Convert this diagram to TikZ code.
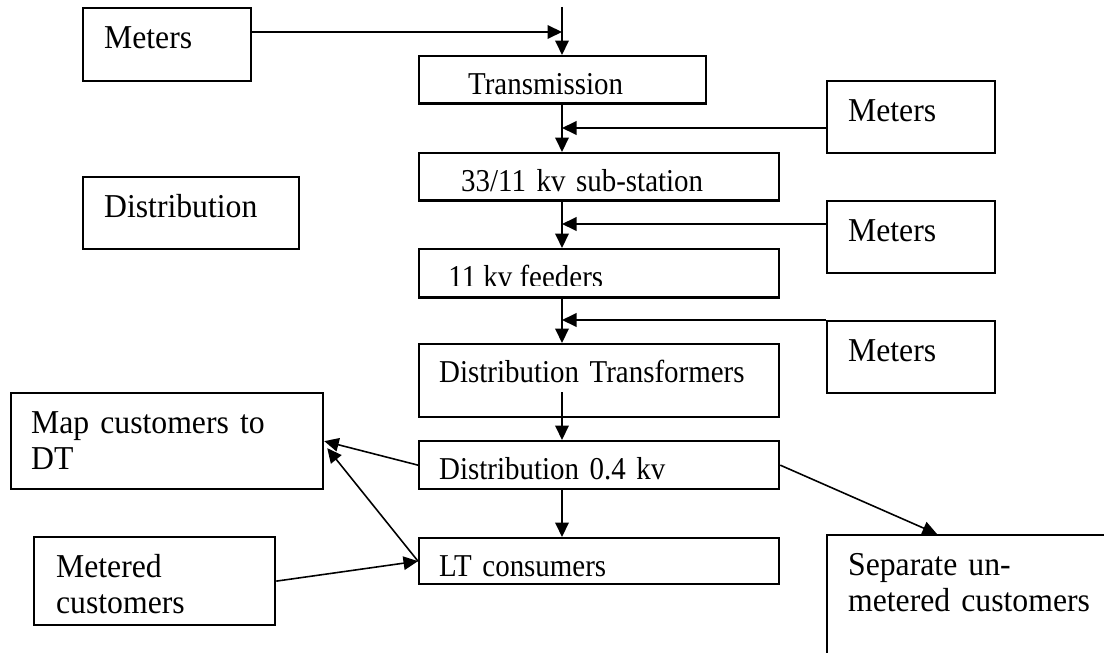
\documentclass[tikz,border=0pt]{standalone}
\usepackage{fontspec}
\setmainfont{Liberation Serif}
\newfontfamily\sidefont[FakeStretch=0.95]{Liberation Serif}
\newfontfamily\centerfont[FakeStretch=0.91]{Liberation Serif}
\usetikzlibrary{arrows.meta,calc}

\begin{document}
\begin{tikzpicture}[
    x=0.02cm, y=-0.02cm,
    boxstyle/.style={rectangle, draw, line width=1.3pt, anchor=north west, inner ysep=0pt, align=left},
    sidebox/.style={boxstyle, inner xsep=0.42cm, text height=0.8cm, font=\sidefont\fontsize{19pt}{20.8pt}\selectfont},
    centerbox/.style={boxstyle, inner xsep=0.4cm, text width=6.4cm, text height=0.77cm, text depth=0.2cm, font=\centerfont\fontsize{18.1pt}{20pt}\selectfont},
    arrow/.style={-{Triangle[length=0.29cm, width=0.27cm]}, line width=1.1pt},
    slantarrow/.style={arrow, line width=0.9pt}
]
\clip (0,0) rectangle (1104,652);

% Left column
\node[sidebox, text width=2.52cm, text depth=0.66cm] (meterA) at (82,7) {Meters};
\node[sidebox, text width=3.48cm, text depth=0.64cm] (distL) at (82,176) {Distribution};
\node[sidebox, inner xsep=0.4cm, text width=5.44cm, text depth=1.12cm] (mapc) at (10,392) {Map customers to\\DT};
\node[sidebox, inner xsep=0.44cm, text width=3.94cm, text depth=0.96cm] (metered) at (33,536) {Metered\\customers};

% Centre chain
\node[centerbox, inner xsep=0.98cm, text width=3.78cm, text depth=0.18cm] (trans) at (418,55) {Transmission};
\node[centerbox, inner xsep=0.84cm, text width=5.52cm, text depth=0.18cm] (sub) at (418,152) {33/11 kv sub-station};
\node[centerbox, inner xsep=0.6cm, text width=6cm] (feed) at (418,248) {};
\node[centerbox, text depth=0.69cm] (dtr) at (418,343) {Distribution Transformers};
\node[centerbox, text depth=0.19cm] (d04) at (418,440) {Distribution 0.4 kv};
\node[centerbox, text depth=0.15cm] (lt) at (418,537) {LT consumers};

% feeder text, cut off at the bottom
\begin{scope}
  \clip (feed.north west) rectangle ($(feed.south east)+(0,-13)$);
  \node[anchor=base west, inner sep=0pt, font=\centerfont\fontsize{18.1pt}{20pt}\selectfont] (feedtxt) at (448,287) {11 kv feeders};
\end{scope}

% Right column
\node[sidebox, text width=2.52cm, text depth=0.64cm] (meterB) at (826,80) {Meters};
\node[sidebox, text width=2.52cm, text depth=0.64cm] (meterC) at (826,200) {Meters};
\node[sidebox, text width=2.52cm, text depth=0.64cm] (meterD) at (826,320) {Meters};
\node[sidebox, text width=5.5cm, text depth=2.6cm] (sep) at (826,534) {Separate un-\\metered customers};

% Junctions on the main line
\coordinate (top) at (562,7);
\coordinate (jA) at (562,32);
\coordinate (jB) at (562,128);
\coordinate (jC) at (562,224);
\coordinate (jD) at (562,320);
\coordinate (dtOut) at (562,392);

% Main flow
\draw[arrow] (top) -- (top |- trans.north);
\draw[arrow] (trans.south -| top) -- (sub.north -| top);
\draw[arrow] (sub.south -| top) -- (feed.north -| top);
\draw[arrow] (feed.south -| top) -- (dtr.north -| top);
\draw[arrow] (dtOut) -- (d04.north -| dtOut);
\draw[arrow] (d04.south -| top) -- (lt.north -| top);

% Meters feeding in
\draw[arrow] (meterA.east |- jA) -- (jA);
\draw[arrow] (meterB.west |- jB) -- (jB);
\draw[arrow] (meterC.west |- jC) -- (jC);
\draw[arrow] (meterD.north west) -- (jD);

% Customer links
\draw[slantarrow] (d04.west) -- (mapc.east);
\draw[slantarrow] (lt.west) -- ($(mapc.east)+(3,7)$);
\draw[slantarrow] (metered.east) -- (lt.west);
\draw[slantarrow] (d04.east) -- ($(sep.north west)+(111,0)$);

\end{tikzpicture}
\end{document}
